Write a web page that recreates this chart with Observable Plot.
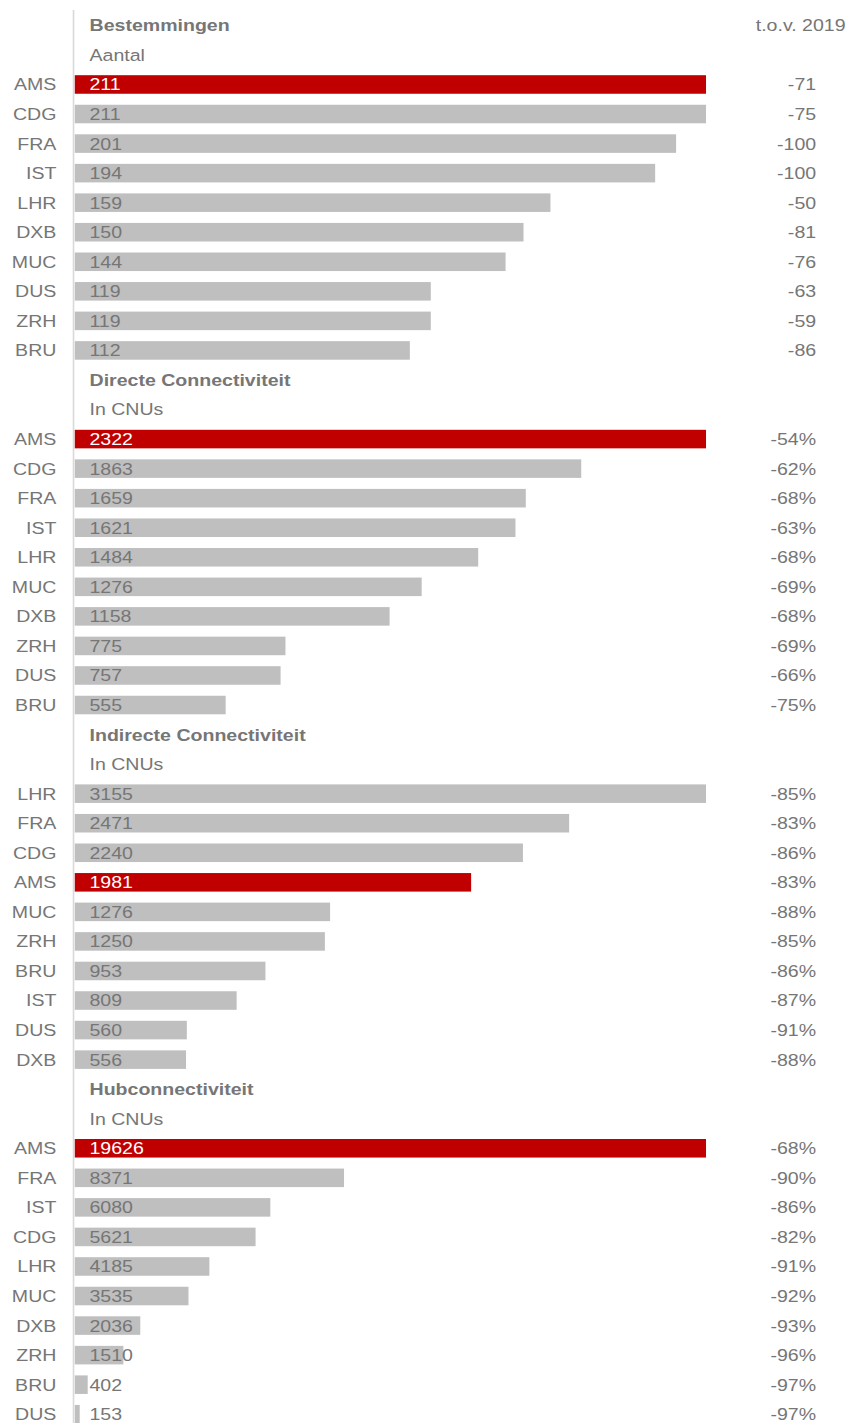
<!DOCTYPE html>
<html>
<head>
<meta charset="utf-8">
<script src="https://cdn.jsdelivr.net/npm/d3@7"></script>
<script src="https://cdn.jsdelivr.net/npm/@observablehq/plot@0.6"></script>
<style>
  html, body { margin: 0; padding: 0; background: #ffffff; }
  #chart { width: 848px; height: 1423px; overflow: hidden; }
</style>
</head>
<body>
<div id="chart"></div>
<script>
// ---- data ----
const sectionTitles = ["Bestemmingen", "Directe Connectiviteit", "Indirecte Connectiviteit", "Hubconnectiviteit"];
const sectionSubtitles = ["Aantal", "In CNUs", "In CNUs", "In CNUs"];
const changeSuffix = ["", "%", "%", "%"];
const changeHeader = "t.o.v. 2019";

const codes1 = ["AMS", "CDG", "FRA", "IST", "LHR", "DXB", "MUC", "DUS", "ZRH", "BRU"];
const values1 = [211, 211, 201, 194, 159, 150, 144, 119, 119, 112];
const changes1 = [-71, -75, -100, -100, -50, -81, -76, -63, -59, -86];

const codes2 = ["AMS", "CDG", "FRA", "IST", "LHR", "MUC", "DXB", "ZRH", "DUS", "BRU"];
const values2 = [2322, 1863, 1659, 1621, 1484, 1276, 1158, 775, 757, 555];
const changes2 = [-54, -62, -68, -63, -68, -69, -68, -69, -66, -75];

const codes3 = ["LHR", "FRA", "CDG", "AMS", "MUC", "ZRH", "BRU", "IST", "DUS", "DXB"];
const values3 = [3155, 2471, 2240, 1981, 1276, 1250, 953, 809, 560, 556];
const changes3 = [-85, -83, -86, -83, -88, -85, -86, -87, -91, -88];

const codes4 = ["AMS", "FRA", "IST", "CDG", "LHR", "MUC", "DXB", "ZRH", "BRU", "DUS"];
const values4 = [19626, 8371, 6080, 5621, 4185, 3535, 2036, 1510, 402, 153];
const changes4 = [-68, -90, -86, -82, -91, -92, -93, -96, -97, -97];

const highlight = "AMS";

// ---- build tables ----
const allCodes = [codes1, codes2, codes3, codes4];
const allValues = [values1, values2, values3, values4];
const allChanges = [changes1, changes2, changes3, changes4];

const rowOrder = [];
const titles = [];
const subtitles = [];
const bars = [];
sectionTitles.forEach((title, s) => {
  rowOrder.push(`${s}-title`);
  titles.push({key: `${s}-title`, text: title});
  rowOrder.push(`${s}-sub`);
  subtitles.push({key: `${s}-sub`, text: sectionSubtitles[s]});
  allCodes[s].forEach((code, i) => {
    const key = `${s}-${code}`;
    rowOrder.push(key);
    bars.push({
      key, section: s, code,
      value: allValues[s][i],
      change: `${allChanges[s][i]}${changeSuffix[s]}`
    });
  });
});

// ---- styling ----
const RED = "#c00000";
const GRAY = "#bfbfbf";
const TEXT = "#767676";
const FONT = "Liberation Sans, Arial, Helvetica, sans-serif";
const FS = 17;
const OUT_W = 848, H = 1423;
const W = 737; // internal width, stretched horizontally to OUT_W

const chart = Plot.plot({
  width: W,
  height: H,
  marginLeft: 65,
  marginRight: 123.4,
  marginTop: 10,
  marginBottom: 0,
  style: {fontFamily: FONT, fontSize: FS + "px", color: TEXT, background: "#ffffff"},
  x: {domain: [0, 1], axis: null},
  y: {domain: rowOrder, range: [10.6, 1429], padding: 0, round: false, axis: null},
  marks: [
    Plot.ruleX([0], {dx: -1.6, stroke: "#d9d9d9", strokeWidth: 1.4}),
    Plot.barX(bars, Plot.normalizeX("max", {
      x: "value", y: "key", z: "section",
      fill: d => d.code === highlight ? RED : GRAY,
      insetTop: 5.5, insetBottom: 5.5
    })),
    // category labels
    Plot.text(bars, {x: 0, y: "key", text: "code", textAnchor: "end", dx: -16.5,
      fill: TEXT, fontSize: FS}),
    // value labels
    Plot.text(bars, {x: 0, y: "key", text: d => String(d.value), textAnchor: "start", dx: 12.2,
      fill: d => d.code === highlight ? "#ffffff" : TEXT, fontSize: FS}),
    // change column
    Plot.text(bars, {x: 1, y: "key", text: "change", textAnchor: "end", dx: 95.2,
      fill: TEXT, fontSize: FS}),
    // section titles
    Plot.text(titles, {x: 0, y: "key", text: "text", textAnchor: "start", dx: 12.3,
      fill: TEXT, fontSize: FS, fontWeight: "bold"}),
    // section subtitles
    Plot.text(subtitles, {x: 0, y: "key", text: "text", textAnchor: "start", dx: 12.3,
      fill: TEXT, fontSize: FS}),
    // column header
    Plot.text([changeHeader], {x: 1, y: () => "0-title", text: d => d, textAnchor: "end", dx: 120.8,
      fill: TEXT, fontSize: FS})
  ]
});

chart.setAttribute("width", OUT_W);
chart.setAttribute("height", H);
chart.setAttribute("preserveAspectRatio", "none");
chart.style.width = OUT_W + "px";
chart.style.height = H + "px";
chart.style.maxWidth = "none";
document.getElementById("chart").appendChild(chart);
</script>
</body>
</html>
